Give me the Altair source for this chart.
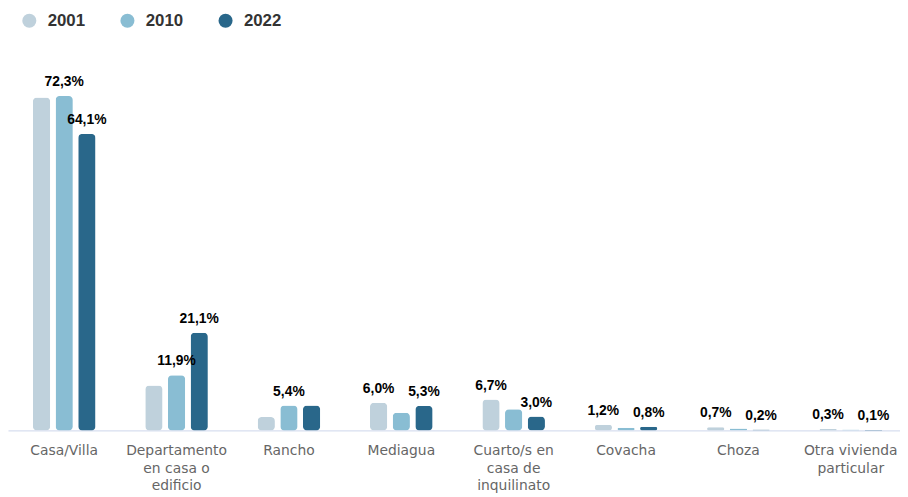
import altair as alt
import pandas as pd

categories = [
    "Casa/Villa",
    "Departamento en casa o edificio",
    "Rancho",
    "Mediagua",
    "Cuarto/s en casa de inquilinato",
    "Covacha",
    "Choza",
    "Otra vivienda particular",
]
wrapped = [
    ["Casa/Villa"],
    ["Departamento", "en casa o", "edificio"],
    ["Rancho"],
    ["Mediagua"],
    ["Cuarto/s en", "casa de", "inquilinato"],
    ["Covacha"],
    ["Choza"],
    ["Otra vivienda", "particular"],
]
years = ["2001", "2010", "2022"]
values_2001 = [72.0, 9.7, 2.9, 6.0, 6.7, 1.2, 0.7, 0.3]
values_2010 = [72.3, 11.9, 5.4, 3.8, 4.6, 0.6, 0.4, 0.2]
values_2022 = [64.1, 21.1, 5.4, 5.3, 3.0, 0.8, 0.2, 0.1]
show_2001 = [False, False, False, True, True, True, True, True]
show_2010 = [True, True, True, False, False, False, False, False]
show_2022 = [True, True, False, True, True, True, True, True]
colors = ["#bfd1dc", "#89bdd3", "#29678a"]

rows = []
for year, vals, shows in zip(years, [values_2001, values_2010, values_2022],
                             [show_2001, show_2010, show_2022]):
    for cat, v, s in zip(categories, vals, shows):
        lbl = (f"{v:.1f}".replace(".", ",") + "%") if s else ""
        rows.append({"categoria": cat, "anio": year, "valor": v, "etiqueta": lbl})
df = pd.DataFrame(rows)

expr = "datum.label"
for cat, w in reversed(list(zip(categories, wrapped))):
    arr = "[" + ",".join("'" + x + "'" for x in w) + "]"
    expr = f"datum.label == '{cat}' ? {arr} : ({expr})"

x_enc = alt.X(
    "categoria:N",
    sort=categories,
    title=None,
    scale=alt.Scale(paddingInner=0.443, paddingOuter=0.2215, range=[0, 907]),
    axis=alt.Axis(
        labelAngle=0,
        labelExpr=expr,
        labelFont="DejaVu Sans",
        labelFontSize=14,
        labelColor="#666666",
        labelLineHeight=18,
        labelPadding=13,
        labelLimit=200,
        ticks=False,
        domainColor="#ccd6eb",
        domainWidth=1,
        grid=False,
    ),
)
xo_enc = alt.XOffset("anio:N", sort=years,
                     scale=alt.Scale(paddingInner=0.238, paddingOuter=0))
y_enc = alt.Y("valor:Q", axis=None, scale=alt.Scale(domain=[0, 75], nice=False))

bars = alt.Chart(df).mark_bar(cornerRadius=4).encode(
    x=x_enc,
    xOffset=xo_enc,
    y=y_enc,
    color=alt.Color(
        "anio:N",
        sort=years,
        scale=alt.Scale(domain=years, range=colors),
        legend=alt.Legend(
            title=None,
            orient="none",
            legendX=13,
            legendY=-72,
            direction="horizontal",
            symbolType="circle",
            symbolSize=201,
            symbolStrokeWidth=0,
            symbolOpacity=1,
            labelFont="Liberation Sans",
            labelFontSize=17,
            labelFontWeight="bold",
            labelColor="#333333",
            labelOffset=10,
            columnPadding=34,
        ),
    ),
)

texts = alt.Chart(df).mark_text(
    dy=-10, baseline="alphabetic", font="Liberation Sans", fontSize=14,
    fontWeight="bold", color="#000000"
).encode(
    x=alt.X("categoria:N", sort=categories),
    xOffset=alt.XOffset("anio:N", sort=years),
    y=alt.Y("valor:Q"),
    text="etiqueta:N",
)

chart = alt.layer(bars, texts).properties(
    width=900,
    height=350,
    autosize="none",
    padding={"left": 0, "top": 74, "right": 0, "bottom": 65},
).configure_view(stroke=None)

chart.save("out.html", embed_options={"renderer": "svg", "actions": False})
